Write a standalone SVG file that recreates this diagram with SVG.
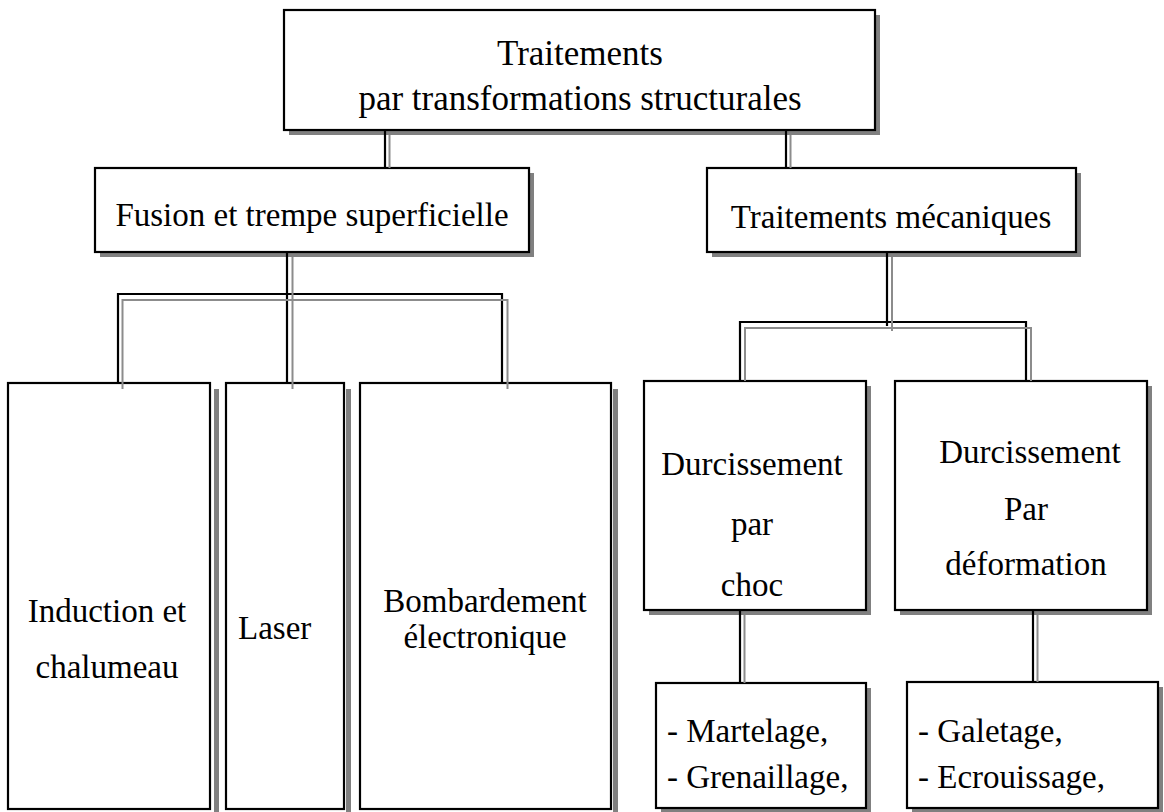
<svg xmlns="http://www.w3.org/2000/svg" width="1164" height="812" viewBox="0 0 1164 812">
<style>
.box{fill:#fff;stroke:#000;stroke-width:2.2}
.sh{fill:#808080}
.t{font-family:"Liberation Serif","Times New Roman",serif;font-size:33px;fill:#000}
.big{font-size:35px}
.c{text-anchor:middle}
.k{fill:none;stroke:#000;stroke-width:2.2}
.g{fill:none;stroke:#8c8c8c;stroke-width:2}
</style>
<rect width="1164" height="812" fill="#fff"/>
<g id="root">
<rect class="sh" x="289" y="15" width="591" height="120"/>
<rect class="box" x="284" y="10" width="591" height="120"/>
<text class="t big c" x="580" y="65">Traitements</text>
<text class="t big c" x="580" y="110">par transformations structurales</text>
</g>
<g id="fusion">
<rect class="sh" x="100" y="173" width="434" height="84"/>
<rect class="box" x="95" y="168" width="434" height="84"/>
<text class="t c" x="312" y="226">Fusion et trempe superficielle</text>
</g>
<g id="meca">
<rect class="sh" x="712" y="173" width="369" height="84"/>
<rect class="box" x="707" y="168" width="369" height="84"/>
<text class="t c" x="891" y="228">Traitements mécaniques</text>
</g>
<g id="induction">
<rect class="sh" x="214" y="389" width="5" height="430"/>
<rect class="box" x="8" y="383" width="202" height="426"/>
<text class="t c" x="107" y="622">Induction et</text>
<text class="t c" x="107" y="678">chalumeau</text>
</g>
<g id="laser">
<rect class="sh" x="346" y="389" width="5" height="430"/>
<rect class="box" x="226" y="383" width="118" height="426"/>
<text class="t" x="238" y="639">Laser</text>
</g>
<g id="bombardement">
<rect class="sh" x="613" y="389" width="5" height="430"/>
<rect class="box" x="360" y="383" width="251" height="426"/>
<text class="t c" x="485" y="612">Bombardement</text>
<text class="t c" x="485" y="648">électronique</text>
</g>
<g id="choc">
<rect class="sh" x="649" y="386" width="222" height="229"/>
<rect class="box" x="644" y="381" width="222" height="229"/>
<text class="t c" x="752" y="475">Durcissement</text>
<text class="t c" x="752" y="535">par</text>
<text class="t c" x="752" y="596">choc</text>
</g>
<g id="deformation">
<rect class="sh" x="900" y="386" width="252" height="229"/>
<rect class="box" x="895" y="381" width="252" height="229"/>
<text class="t c" x="1030" y="463">Durcissement</text>
<text class="t c" x="1026" y="520">Par</text>
<text class="t c" x="1026" y="575">déformation</text>
</g>
<g id="martelage">
<rect class="sh" x="661" y="688" width="210" height="125"/>
<rect class="box" x="656" y="683" width="210" height="125"/>
<text class="t" x="667" y="742">- Martelage,</text>
<text class="t" x="667" y="788">- Grenaillage,</text>
</g>
<g id="galetage">
<rect class="sh" x="912" y="687" width="251" height="126"/>
<rect class="box" x="907" y="682" width="251" height="126"/>
<text class="t" x="918" y="742">- Galetage,</text>
<text class="t" x="918" y="788">- Ecrouissage,</text>
</g>
<g id="connectors">
<path class="k" d="M385 131V168M786 131V168"/>
<path class="g" d="M389.5 135V168M790.5 135V168"/>
<path class="k" d="M287 253V383M118 383V294H502V383"/>
<path class="g" d="M292.5 257V389M122.5 389V300H507.5V389"/>
<path class="k" d="M887 253V326M740 381V322H1026V381"/>
<path class="g" d="M892 257V331M745 381V328H1031V381"/>
<path class="k" d="M740 611V683M1033 611V682"/>
<path class="g" d="M744.5 615V683M1037.5 615V682"/>
</g>
</svg>
